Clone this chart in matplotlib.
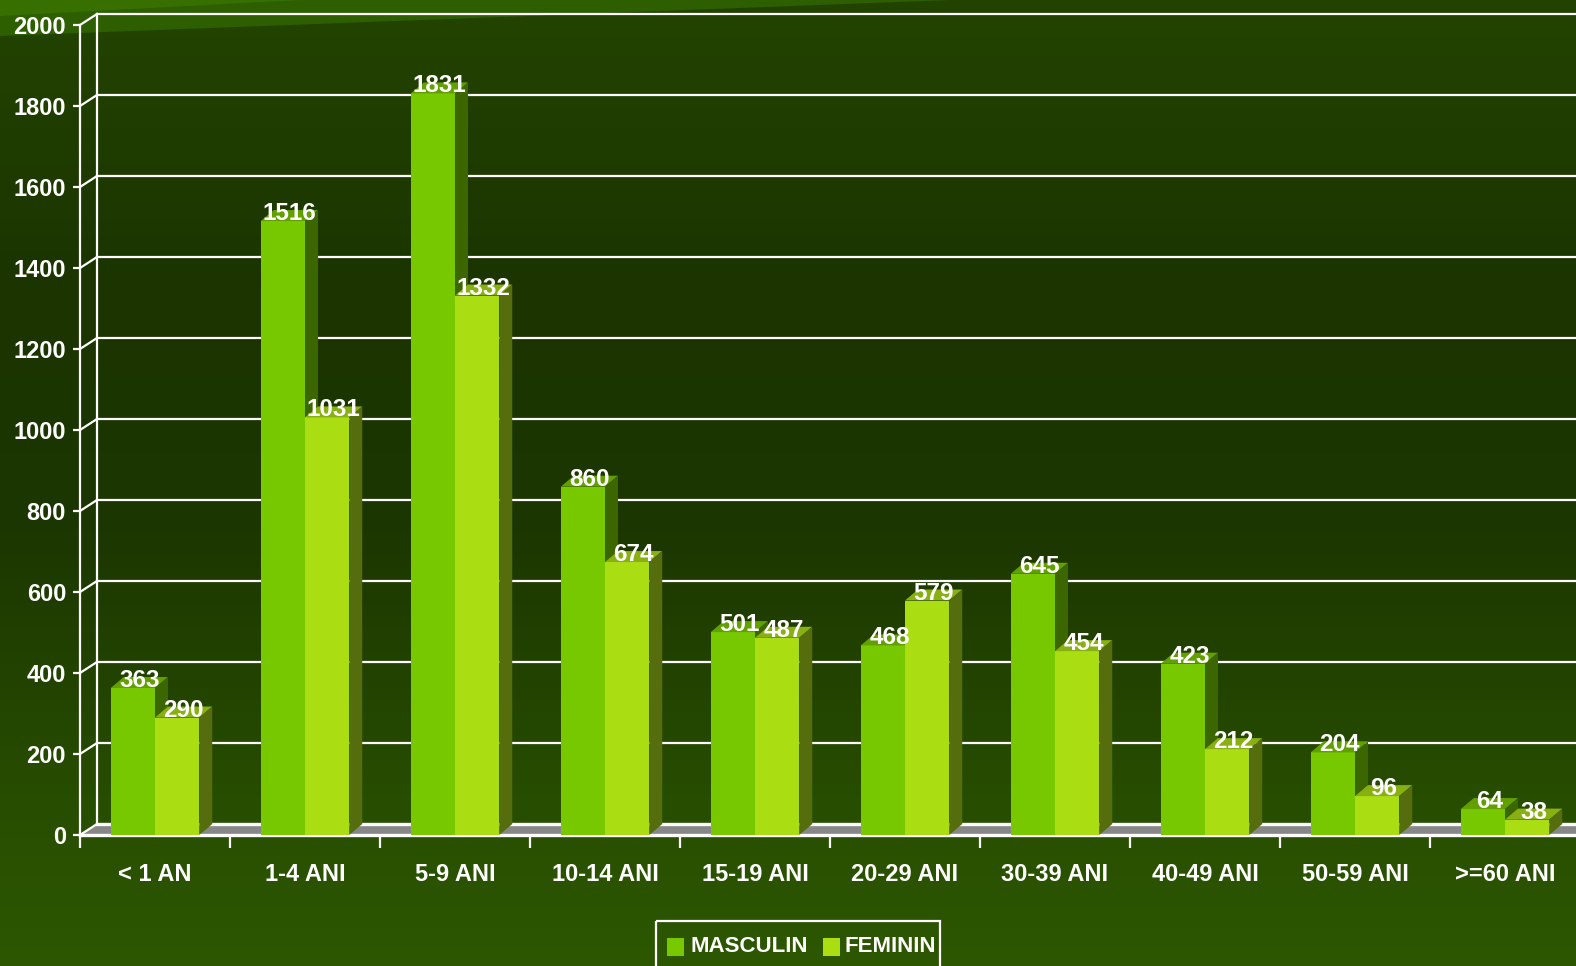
import matplotlib
matplotlib.use('Agg')
import matplotlib.pyplot as plt
import numpy as np
from matplotlib.patches import Polygon, Rectangle
from matplotlib.colors import to_rgb

# --- data ---
categories = ['< 1 AN', '1-4 ANI', '5-9 ANI', '10-14 ANI', '15-19 ANI',
              '20-29 ANI', '30-39 ANI', '40-49 ANI', '50-59 ANI', '>=60 ANI']
masculin = [363, 1516, 1831, 860, 501, 468, 645, 423, 204, 64]
feminin = [290, 1031, 1332, 674, 487, 579, 454, 212, 96, 38]
y_ticks = [0, 200, 400, 600, 800, 1000, 1200, 1400, 1600, 1800, 2000]
series_names = ['MASCULIN', 'FEMININ']

plt.rcParams['font.family'] = ['Liberation Sans', 'DejaVu Sans']
plt.rcParams['font.weight'] = 'bold'

W, H = 1576, 966
fig = plt.figure(figsize=(W / 100, H / 100), dpi=100)

# --- background gradient ---
bg = fig.add_axes([0, 0, 1, 1], zorder=0)
bg.set_axis_off()
stops = [(0.0, '#234400'), (0.3, '#1b3400'), (0.55, '#1c3700'),
         (0.85, '#284f00'), (1.0, '#2d5700')]
ys = np.linspace(0, 1, 256)
grad = np.zeros((256, 1, 3))
for c in range(3):
    grad[:, 0, c] = np.interp(ys, [s[0] for s in stops], [to_rgb(s[1])[c] for s in stops])
bg.imshow(grad, extent=[0, W, H, 0], aspect='auto', interpolation='bicubic')
bg.add_patch(Polygon([(0, 0), (950, 0), (0, 36)], color='#2d5e00', lw=0))
bg.add_patch(Polygon([(0, 0), (300, 0), (0, 16)], color='#377000', lw=0))
bg.set_xlim(0, W)
bg.set_ylim(H, 0)

# --- main axes (front plane) ---
left, right, top, bottom = 80, 1580, 25, 835
ax = fig.add_axes([left / W, (H - bottom) / H, (right - left) / W, (bottom - top) / H], zorder=1)
ax.set_facecolor('none')
n = len(categories)
ax.set_xlim(-0.5, n - 0.5)
ax.set_ylim(0, 2000)
px_x = (right - left) / n
px_y = (bottom - top) / 2000.0

wall_dx, wall_dy = 17 / px_x, 11 / px_y
bar_dx, bar_dy = 13 / px_x, 11 / px_y
x_end = (W + 5 - left) / px_x - 0.5
x0w = -0.5 + wall_dx
white = '#ffffff'

# floor
ax.add_patch(Polygon([(-0.5, 0), (x_end, 0), (x_end, wall_dy), (x0w, wall_dy)],
                     facecolor='#878787', lw=0, zorder=1, clip_on=False))
ax.plot([x0w, x_end], [wall_dy, wall_dy], color=white, lw=2.4, zorder=1.5, clip_on=False)

# back wall grid lines + connectors
for t in y_ticks[1:]:
    ax.plot([x0w, x_end], [t + wall_dy, t + wall_dy], color=white, lw=1.6, zorder=1.2, clip_on=False)
for t in y_ticks:
    ax.plot([-0.5, x0w], [t, t + wall_dy], color=white, lw=1.6, zorder=1.2, clip_on=False)
ax.plot([x0w, x0w], [wall_dy, y_ticks[-1] + wall_dy], color=white, lw=1.6, zorder=1.2, clip_on=False)

# --- bars ---
colors = {
    'm': ('#78c800', '#62a000', '#3c6600'),
    'f': ('#aadd12', '#88b012', '#556d0c'),
}
x = np.arange(n)
w = 0.295
for i in range(n):
    for j, (vals, key) in enumerate([(masculin, 'm'), (feminin, 'f')]):
        h = vals[i]
        xa = x[i] - w if j == 0 else x[i]
        xb = xa + w
        front, topc, side = colors[key]
        z = 3 + i * 0.1 + j * 0.05
        ax.bar(xa, h, w, align='edge', color=front, lw=0, zorder=z)
        ax.add_patch(Polygon([(xa, h), (xb, h), (xb + bar_dx, h + bar_dy), (xa + bar_dx, h + bar_dy)],
                             facecolor=topc, lw=0, zorder=z, clip_on=False))
        ax.add_patch(Polygon([(xb, 0), (xb, h), (xb + bar_dx, h + bar_dy), (xb + bar_dx, bar_dy)],
                             facecolor=side, lw=0, zorder=z, clip_on=False))
        ax.text(xa + w / 2 + bar_dx / 2, h + 1 / px_y, str(h), ha='center', va='baseline',
                color=white, fontsize=17.5, fontweight='bold', zorder=10)

# --- axes styling ---
for s in ['top', 'right']:
    ax.spines[s].set_visible(False)
for s in ['left', 'bottom']:
    ax.spines[s].set_color(white)
    ax.spines[s].set_zorder(2)
ax.spines['left'].set_linewidth(1.6)
ax.spines['bottom'].set_linewidth(2.4)
ax.spines['bottom'].set_bounds(-0.5, x_end)

ax.set_yticks(y_ticks)
ax.set_yticklabels([str(t) for t in y_ticks])
ax.tick_params(axis='y', colors=white, length=5, width=1.6, pad=5, labelsize=17)

ax.set_xticks(x)
ax.set_xticklabels(categories)
ax.set_xticks(np.arange(n) - 0.5, minor=True)
ax.tick_params(axis='x', which='major', length=0, pad=20, colors=white, labelsize=17)
ax.tick_params(axis='x', which='minor', length=9, width=1.6, color=white)
for lab in ax.get_xticklabels() + ax.get_yticklabels():
    lab.set_fontweight('bold')

# --- legend (figure pixel coords on background axes) ---
bg.add_patch(Rectangle((656, 921), 284, 60, fill=False, edgecolor=white, lw=1.6, clip_on=False))
bg.add_patch(Rectangle((667, 938), 17, 18, color=colors['m'][0], lw=0))
bg.add_patch(Rectangle((823, 938), 17, 18, color=colors['f'][0], lw=0))
bg.text(691, 947, series_names[0], color=white, fontsize=16, fontweight='bold', va='center', ha='left')
bg.text(845, 947, series_names[1], color=white, fontsize=16, fontweight='bold', va='center', ha='left')

fig.savefig('out.png', dpi=100)
